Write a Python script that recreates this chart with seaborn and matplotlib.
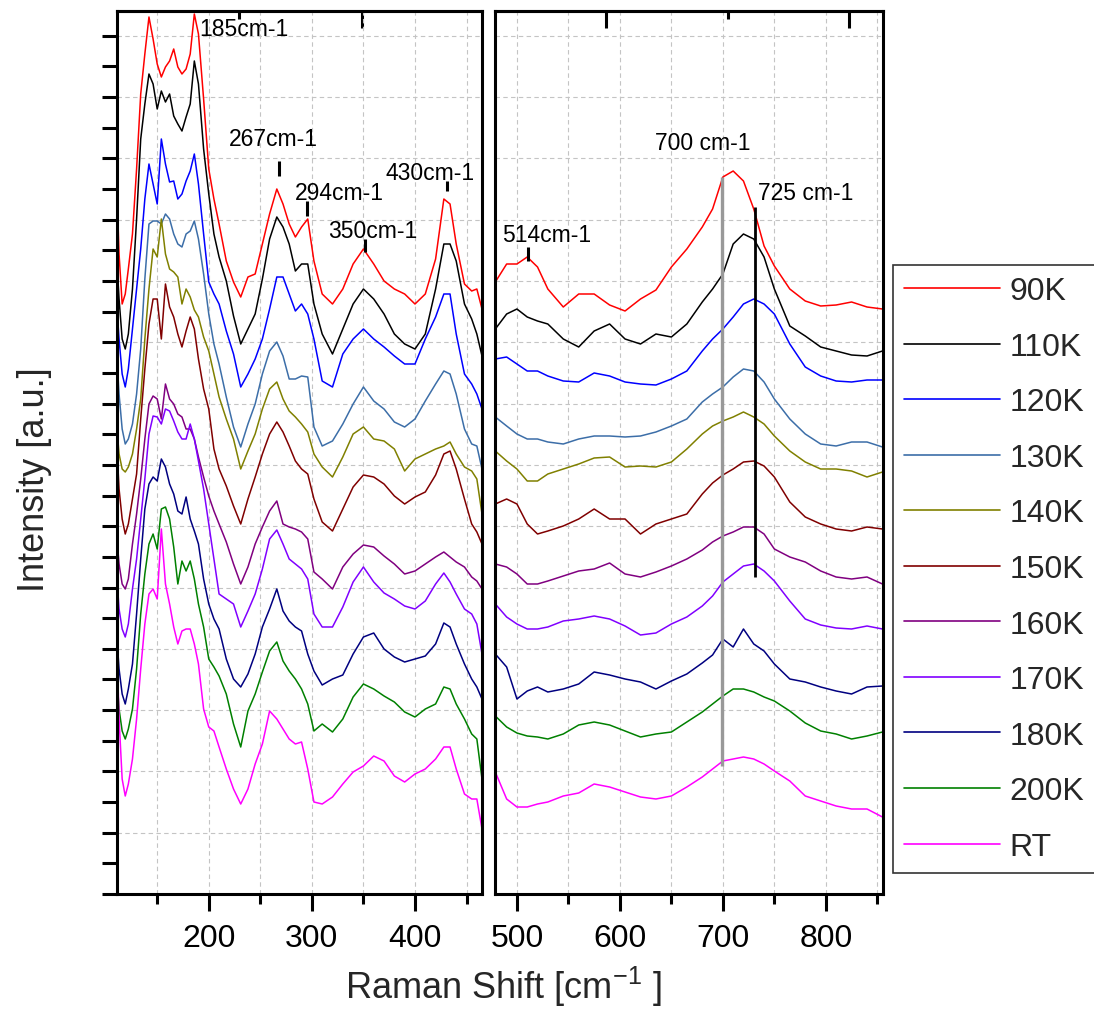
import numpy as np
import pandas as pd
import matplotlib; matplotlib.use("Agg")
import matplotlib.pyplot as plt
from matplotlib.lines import Line2D
import seaborn as sns

# ── data (Raman shift in cm-1, stacked intensity in a.u.) ──
temps = ["90K", "110K", "120K", "130K", "140K", "150K",
         "160K", "170K", "180K", "200K", "RT"]
colors = ["#FF0000", "#000000", "#0000FF", "#3C6EA8", "#808000", "#800000",
          "#800080", "#8000FF", "#000080", "#008000", "#FF00FF"]

x_left = [111, 113, 116, 119, 122, 126, 130, 134, 138, 142, 146, 150,
          154, 158, 162, 166, 170, 174, 178, 182, 186, 190, 195, 200,
          205, 210, 217, 224, 231, 238, 245, 252, 259, 266, 272, 278,
          284, 290, 296, 302, 310, 320, 330, 340, 350, 360, 370, 380,
          390, 400, 410, 420, 428, 434, 440, 448, 455, 460, 465]
x_right = [479, 490, 500, 510, 520, 530, 545, 560, 575, 590, 605, 620,
           635, 650, 665, 680, 690, 700, 710, 720, 730, 740, 750, 765,
           780, 795, 810, 825, 840, 855]

k90_left = [702, 640, 590, 600, 625, 660, 725, 800, 840, 877, 855, 830,
            817, 827, 833, 845, 827, 820, 825, 840, 880, 860, 795, 725,
            695, 670, 633, 612, 597, 617, 620, 650, 680, 705, 690, 670,
            657, 667, 675, 633, 600, 590, 605, 630, 645, 630, 613, 605,
            600, 590, 600, 635, 695, 690, 650, 610, 603, 605, 585]
k110_left = [630, 595, 555, 545, 560, 605, 675, 755, 790, 820, 810, 785,
             803, 792, 800, 778, 770, 763, 777, 790, 833, 810, 745, 700,
             660, 637, 613, 578, 550, 565, 580, 615, 655, 677, 667, 650,
             623, 630, 630, 590, 560, 540, 565, 590, 605, 595, 580, 560,
             550, 545, 560, 605, 650, 650, 633, 590, 575, 560, 538]
k120_left = [585, 555, 520, 507, 525, 565, 605, 645, 695, 730, 710, 690,
             755, 730, 712, 713, 695, 700, 713, 723, 740, 710, 660, 612,
             600, 590, 563, 540, 507, 520, 535, 555, 585, 617, 617, 600,
             583, 590, 580, 555, 513, 507, 540, 555, 565, 555, 547, 538,
             530, 530, 555, 577, 600, 600, 560, 520, 510, 500, 485]
k130_left = [535, 500, 465, 450, 455, 470, 500, 545, 615, 670, 673, 673,
             670, 680, 675, 660, 650, 647, 660, 663, 673, 655, 620, 580,
             550, 530, 497, 467, 447, 470, 490, 520, 543, 552, 538, 515,
             515, 518, 517, 467, 448, 453, 470, 490, 507, 493, 485, 472,
             467, 475, 493, 510, 523, 520, 500, 465, 450, 448, 425]
k140_left = [465, 440, 425, 422, 427, 440, 465, 495, 555, 605, 645, 637,
             675, 640, 625, 622, 617, 590, 605, 597, 584, 577, 557, 543,
             520, 497, 475, 455, 425, 443, 460, 485, 505, 512, 495, 483,
             477, 470, 462, 440, 427, 417, 437, 460, 467, 455, 453, 445,
             423, 435, 440, 445, 448, 452, 440, 427, 423, 415, 380]
k150_left = [445, 405, 375, 360, 370, 395, 420, 475, 525, 570, 595, 595,
             555, 610, 587, 577, 560, 547, 563, 577, 565, 535, 505, 485,
             445, 425, 408, 388, 370, 395, 417, 440, 460, 472, 462, 448,
             433, 425, 420, 395, 372, 363, 385, 407, 419, 417, 410, 398,
             390, 397, 402, 419, 440, 443, 425, 395, 370, 362, 350]
k160_left = [355, 330, 310, 305, 315, 350, 380, 415, 455, 490, 498, 495,
             475, 510, 495, 490, 480, 477, 465, 465, 455, 437, 417, 398,
             383, 370, 352, 330, 310, 327, 350, 367, 383, 393, 370, 367,
             365, 362, 355, 322, 315, 305, 327, 340, 349, 347, 338, 330,
             320, 323, 330, 337, 342, 337, 332, 327, 317, 313, 305]
k170_left = [315, 285, 265, 257, 270, 305, 335, 375, 415, 460, 478, 477,
             470, 485, 483, 473, 462, 455, 455, 470, 455, 433, 405, 370,
             335, 300, 295, 290, 267, 283, 300, 325, 355, 364, 350, 335,
             330, 325, 315, 280, 267, 267, 287, 312, 327, 312, 301, 295,
             288, 285, 293, 310, 321, 312, 300, 285, 280, 270, 240]
k180_left = [255, 225, 200, 190, 205, 230, 280, 335, 385, 410, 417, 413,
             435, 427, 410, 400, 383, 380, 397, 375, 363, 350, 315, 290,
             275, 265, 235, 215, 207, 220, 240, 267, 285, 305, 283, 273,
             267, 263, 240, 223, 209, 215, 219, 240, 257, 261, 245, 237,
             232, 235, 238, 250, 271, 267, 250, 230, 215, 207, 195]
k200_left = [215, 185, 163, 155, 165, 185, 225, 280, 320, 350, 360, 345,
             385, 387, 375, 347, 310, 333, 323, 333, 315, 290, 267, 235,
             227, 218, 200, 170, 147, 183, 200, 222, 243, 252, 233, 223,
             215, 205, 190, 163, 170, 162, 175, 197, 210, 205, 198, 192,
             182, 177, 185, 190, 207, 205, 190, 175, 160, 155, 115]
rt_left = [245, 175, 115, 98, 110, 135, 175, 225, 270, 300, 305, 295,
           365, 310, 290, 267, 250, 263, 265, 265, 250, 230, 185, 167,
           163, 147, 125, 105, 90, 105, 130, 150, 183, 175, 165, 155,
           150, 152, 125, 92, 90, 97, 110, 122, 128, 138, 133, 118,
           112, 120, 125, 135, 147, 147, 125, 100, 95, 95, 65]

k90_right = [612, 630, 630, 637, 627, 605, 587, 600, 600, 589, 583, 595,
             604, 627, 645, 667, 685, 717, 723, 713, 685, 648, 628, 605,
             593, 588, 589, 592, 587, 585]
k110_right = [565, 580, 585, 577, 573, 570, 555, 547, 563, 570, 555, 550,
              560, 557, 570, 592, 605, 620, 650, 660, 655, 637, 605, 568,
              558, 547, 543, 539, 538, 543]
k120_right = [535, 537, 530, 523, 523, 518, 513, 512, 521, 518, 512, 510,
              509, 515, 523, 543, 555, 565, 577, 590, 595, 590, 580, 550,
              527, 518, 513, 512, 514, 514]
k130_right = [477, 468, 460, 455, 455, 452, 450, 455, 458, 458, 457, 458,
              462, 468, 475, 492, 500, 507, 517, 525, 523, 512, 495, 475,
              460, 450, 448, 452, 452, 447]
k140_right = [443, 433, 425, 413, 413, 420, 425, 430, 436, 437, 427, 428,
              427, 432, 445, 460, 468, 473, 477, 482, 477, 470, 458, 443,
              432, 425, 425, 423, 417, 422]
k150_right = [390, 395, 390, 370, 360, 363, 368, 375, 385, 375, 375, 360,
              370, 375, 380, 400, 411, 419, 425, 432, 433, 428, 417, 392,
              377, 370, 365, 363, 367, 365]
k160_right = [330, 327, 320, 310, 310, 313, 318, 323, 325, 331, 320, 317,
              322, 328, 335, 344, 352, 358, 362, 367, 367, 360, 345, 337,
              332, 323, 317, 315, 317, 310]
k170_right = [290, 277, 270, 265, 265, 267, 273, 275, 278, 275, 268, 259,
              261, 270, 277, 288, 298, 312, 320, 328, 330, 323, 313, 293,
              275, 269, 266, 265, 268, 265]
k180_right = [240, 227, 195, 203, 207, 202, 205, 210, 222, 219, 215, 212,
              205, 213, 220, 231, 239, 255, 247, 265, 250, 243, 230, 215,
              212, 207, 203, 200, 207, 208]
k200_right = [178, 167, 161, 158, 157, 155, 160, 169, 172, 169, 163, 157,
              160, 162, 172, 182, 190, 198, 205, 205, 202, 197, 193, 183,
              171, 163, 160, 155, 158, 162]
rt_right = [122, 95, 87, 87, 90, 92, 98, 101, 110, 107, 102, 97,
            95, 98, 107, 117, 125, 133, 135, 137, 135, 130, 123, 113,
            98, 93, 88, 85, 85, 77]

left_series = [k90_left, k110_left, k120_left, k130_left, k140_left, k150_left,
               k160_left, k170_left, k180_left, k200_left, rt_left]
right_series = [k90_right, k110_right, k120_right, k130_right, k140_right,
                k150_right, k160_right, k170_right, k180_right, k200_right,
                rt_right]

# peak labels and their marker lines
peak_labels = ["185cm-1", "267cm-1", "294cm-1", "350cm-1", "430cm-1"]
peak_label_x = [190.5, 219.5, 283.5, 315.5, 371.0]
peak_label_y = [865, 755, 702, 663, 722]
mark_x = [268.0, 295.0, 351.5, 431.0]
mark_lo = [718, 678, 642, 703]
mark_hi = [733, 693, 655, 713]

right_labels = ["514cm-1", "700 cm-1", "725 cm-1"]
right_label_x = [485.5, 634.0, 734.0]
right_label_y = [660, 752, 702]
mark514 = (510.7, 633, 647)
line700 = (699.0, 128, 717)
line725 = (731.5, 317, 687)

Y_TOP = 883
Y_STEP = 30.65

# ── style ──
sns.set_theme(style="white")
plt.rcParams.update({
    "font.family": ["Liberation Sans", "DejaVu Sans"],
    "mathtext.fontset": "custom",
    "mathtext.rm": "Liberation Sans",
    "mathtext.it": "Liberation Sans:italic",
    "axes.edgecolor": "black",
    "axes.linewidth": 2.2,
    "xtick.color": "black",
    "ytick.color": "black",
})

W, H = 1094, 1012
fig = plt.figure(figsize=(W / 100, H / 100), dpi=100)
axL = fig.add_axes([117 / W, 117 / H, 365 / W, 883 / H])
axR = fig.add_axes([494.8 / W, 117 / H, 388.7 / W, 883 / H])

df_left = pd.DataFrame({
    "shift": np.tile(x_left, len(temps)),
    "intensity": np.concatenate(left_series),
    "temp": np.repeat(temps, len(x_left)),
})
df_right = pd.DataFrame({
    "shift": np.tile(x_right, len(temps)),
    "intensity": np.concatenate(right_series),
    "temp": np.repeat(temps, len(x_right)),
})
palette = dict(zip(temps, colors))

for ax, df in ((axL, df_left), (axR, df_right)):
    sns.lineplot(data=df, x="shift", y="intensity", hue="temp",
                 hue_order=temps, palette=palette, estimator=None,
                 sort=False, linewidth=1.1, legend=False, ax=ax)
    ax.set_xlabel("")
    ax.set_ylabel("")
    ax.set_ylim(0, Y_TOP)
    ax.set_yticks(np.arange(2 * Y_STEP, Y_TOP, 2 * Y_STEP))
    ax.set_yticks(np.arange(Y_STEP, Y_TOP, 2 * Y_STEP), minor=True)
    ax.grid(True, which="major", axis="y", color="#c4c4c4",
            linestyle=(0, (4, 3)), linewidth=0.8)
    ax.grid(True, which="both", axis="x", color="#c4c4c4",
            linestyle=(0, (4, 3)), linewidth=0.8)
    ax.set_axisbelow(True)
    ax.tick_params(axis="x", which="major", direction="out", length=12,
                   width=2.2, labelsize=23, pad=9, bottom=True)
    ax.tick_params(axis="x", which="minor", direction="out", length=7,
                   width=2.2, bottom=True)
    for s in ax.spines.values():
        s.set_linewidth(2.2)
        s.set_color("black")

axL.set_xlim(111, 465)
axL.set_xticks([200, 300, 400])
axL.set_xticks([150, 250, 350, 450], minor=True)
axL.tick_params(axis="y", which="both", direction="out", length=11,
                width=2.2, left=True, labelleft=False)
axL.set_yticks([0] + list(np.arange(2 * Y_STEP, Y_TOP, 2 * Y_STEP)))

axR.set_xlim(478.5, 856)
axR.set_xticks([500, 600, 700, 800])
axR.set_xticks([550, 650, 750, 850], minor=True)
axR.tick_params(axis="y", which="both", left=False, labelleft=False)

# odd inward ticks on the top edge
for ax, long_t, short_t in ((axL, [348.5], [229.1]),
                            (axR, [586.4, 822.3], [704.9])):
    sec = ax.secondary_xaxis("top")
    sec.set_xticks(long_t)
    sec.set_xticks(short_t, minor=True)
    sec.tick_params(axis="x", which="major", direction="in", length=12,
                    width=2.2, labeltop=False)
    sec.tick_params(axis="x", which="minor", direction="in", length=6,
                    width=2.2)
    sec.spines["top"].set_linewidth(2.2)

# annotations
for t, x, y in zip(peak_labels, peak_label_x, peak_label_y):
    axL.text(x, y, t, fontsize=16.5, ha="left", va="center", color="black")
axL.vlines(mark_x, mark_lo, mark_hi, color="black", linewidth=2.2)

for t, x, y in zip(right_labels, right_label_x, right_label_y):
    axR.text(x, y, t, fontsize=16.5, ha="left", va="center", color="black")
axR.vlines(mark514[0], mark514[1], mark514[2], color="black", linewidth=2.2)
axR.vlines(line700[0], line700[1], line700[2], color="#999999", linewidth=2.4)
axR.vlines(line725[0], line725[1], line725[2], color="black", linewidth=2.0)

fig.text(503 / W, 1 - 987 / H, "Raman Shift [cm$^{-1}$ ]", fontsize=26,
         ha="center", va="center")
fig.text(35 / W, 1 - 480 / H, "Intensity [a.u.]", fontsize=26,
         rotation=90, ha="center", va="center")

handles = [Line2D([], [], color=c, linewidth=1.2) for c in colors]
leg = fig.legend(handles, temps, loc="upper left",
                 bbox_to_anchor=(893 / W, 1 - 266 / H), frameon=True,
                 fancybox=False, edgecolor="black", fontsize=23,
                 handlelength=3.0, handletextpad=0.3, labelspacing=0.8,
                 borderpad=0.35, borderaxespad=0)
leg.get_frame().set_linewidth(1.2)

fig.savefig("out.png", dpi=100, facecolor="white")
